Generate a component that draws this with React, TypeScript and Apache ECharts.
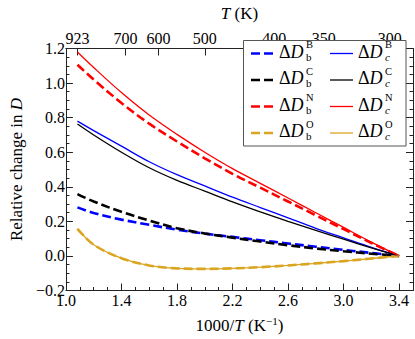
import React, { useEffect, useRef } from "react";
import * as echarts from "echarts";

// 1000/T values (K^-1)
const X = [1.083, 1.2, 1.4, 1.6, 1.8, 2.0, 2.2, 2.4, 2.6, 2.8, 3.0, 3.2, 3.4];
// Dashed (b) series
const dBb = [0.281, 0.248, 0.21, 0.18, 0.152, 0.129, 0.11, 0.091, 0.072, 0.053, 0.035, 0.017, 0];
const dCb = [0.358, 0.315, 0.255, 0.205, 0.16, 0.13, 0.106, 0.083, 0.062, 0.043, 0.027, 0.013, 0];
const dNb = [1.106, 1.02, 0.885, 0.765, 0.662, 0.565, 0.475, 0.395, 0.315, 0.235, 0.155, 0.075, 0];
const dOb = [0.157, 0.065, -0.013, -0.055, -0.072, -0.075, -0.072, -0.065, -0.055, -0.043, -0.03, -0.015, 0];
// Solid (c) series
const dBc = [0.78, 0.725, 0.635, 0.545, 0.47, 0.405, 0.34, 0.28, 0.22, 0.16, 0.105, 0.05, 0];
const dCc = [0.763, 0.7, 0.6, 0.51, 0.437, 0.375, 0.313, 0.255, 0.2, 0.148, 0.097, 0.047, 0];
const dNc = [1.18, 1.09, 0.945, 0.815, 0.703, 0.6, 0.505, 0.42, 0.335, 0.25, 0.165, 0.08, 0];
const dOc = [0.157, 0.065, -0.013, -0.055, -0.072, -0.075, -0.072, -0.065, -0.055, -0.043, -0.03, -0.015, 0];

// Top axis temperatures (K)
const TEMPS = [923, 700, 600, 500, 400, 350, 300];

const COLORS = { B: "#0000ff", C: "#000000", N: "#ff0000", O: "#daa520" };
const ELEMENTS: ("B" | "C" | "N" | "O")[] = ["B", "C", "N", "O"];

const FONT = "Liberation Serif";
const AXIS_COLOR = "#222";
const FS = 16;
const NFS = 17;

function pairs(ys: number[]) {
  return X.map((x, i) => [x, ys[i]]);
}

const rich = {
  n: { fontFamily: FONT, fontSize: NFS, color: "#000", lineHeight: 20 },
  i: { fontFamily: FONT, fontSize: NFS, fontStyle: "italic", color: "#000", lineHeight: 20 },
  sup: { fontFamily: FONT, fontSize: 11, color: "#000", lineHeight: 11, verticalAlign: "top" },
};

const LFS = 18;
const SFS = 10.5;
const legendRich = {
  n: { fontFamily: FONT, fontSize: LFS, color: "#000", lineHeight: 18 },
  i: { fontFamily: FONT, fontSize: LFS, fontStyle: "italic", color: "#000", lineHeight: 18 },
};

export default function App() {
  const ref = useRef<HTMLDivElement>(null);
  useEffect(() => {
    if (!ref.current) return;
    const chart = echarts.init(ref.current, undefined, { renderer: "svg" });
    const bData: Record<string, number[]> = { B: dBb, C: dCb, N: dNb, O: dOb };
    const cData: Record<string, number[]> = { B: dBc, C: dCc, N: dNc, O: dOc };

    const series: any[] = [];
    ELEMENTS.forEach((el) => {
      series.push({
        type: "line",
        name: "b" + el,
        data: pairs(bData[el]),
        showSymbol: false,
        symbol: "none",
        smooth: 0.35,
        lineStyle: { color: COLORS[el], width: 2.6, type: [9, 4] },
        z: 2,
      });
      series.push({
        type: "line",
        name: "c" + el,
        data: pairs(cData[el]),
        showSymbol: false,
        symbol: "none",
        smooth: 0.35,
        lineStyle: { color: COLORS[el], width: 1.3 },
        z: 3,
      });
    });

    const tempVals = TEMPS.map((t) => 1000 / t);

    const legendGraphics: any[] = [];
    const box = { x: 243.5, y: 40.5, w: 162.5, h: 105.5 };
    legendGraphics.push({
      type: "rect",
      shape: { x: box.x, y: box.y, width: box.w, height: box.h },
      style: { fill: "#fff", stroke: "#555", lineWidth: 1 },
      z: 100,
    });
    const rowsY = [53.5, 80, 106.5, 133];
    const addEntry = (lineX1: number, lineX2: number, textX: number, y: number, el: string, dashed: boolean, sub: string, subItalic: boolean) => {
      legendGraphics.push({
        type: "line",
        shape: { x1: lineX1, y1: y, x2: lineX2, y2: y },
        style: dashed
          ? { stroke: (COLORS as any)[el], lineWidth: 2.6, lineDash: [9, 4] }
          : { stroke: (COLORS as any)[el], lineWidth: 1.3 },
        z: 101,
      });
      legendGraphics.push({
        type: "text",
        x: textX,
        y: y - 2,
        style: { text: "{n|Δ}{i|D}", rich: legendRich, verticalAlign: "middle" },
        z: 101,
      });
      legendGraphics.push({
        type: "text",
        x: textX + 27,
        y: y - 9,
        style: { text: el, fontFamily: FONT, fontSize: SFS, fill: "#000", verticalAlign: "middle" },
        z: 101,
      });
      legendGraphics.push({
        type: "text",
        x: textX + 27,
        y: y + 3,
        style: {
          text: sub,
          fontFamily: FONT,
          fontSize: SFS + 0.5,
          fontStyle: subItalic ? "italic" : "normal",
          fill: "#000",
          verticalAlign: "middle",
        },
        z: 101,
      });
    };
    ELEMENTS.forEach((el, r) => {
      const y = rowsY[r];
      addEntry(251, 273, 279, y, el, true, "b", false);
      addEntry(330, 353, 358, y, el, false, "c", true);
    });

    const labelStyle = { fontFamily: FONT, fontSize: FS, color: "#000" };
    const nameStyle = { fontFamily: FONT, fontSize: NFS, color: "#000", rich };

    chart.setOption({
      animation: false,
      backgroundColor: "#fff",
      grid: { left: 53, top: 33, width: 360, height: 262, containLabel: false },
      xAxis: [
        {
          type: "value",
          position: "bottom",
          min: 1.0,
          max: 3.5,
          interval: 0.4,
          axisLine: { show: true, onZero: false, lineStyle: { color: AXIS_COLOR, width: 1 } },
          axisTick: { show: true, inside: true, length: 7, lineStyle: { color: AXIS_COLOR } },
          axisLabel: {
            ...labelStyle,
            margin: 2,
            showMaxLabel: false,
            formatter: (v: number) => v.toFixed(1),
          },
          splitLine: { show: false },
          name: "1000/{i|T} (K{sup|−1})",
          nameLocation: "middle",
          nameGap: 25,
          nameTextStyle: nameStyle,
        },
        {
          type: "value",
          position: "bottom",
          min: 1.0,
          max: 3.5,
          interval: 0.1,
          axisLine: { show: false, onZero: false },
          axisTick: { show: true, inside: true, length: 3.5, lineStyle: { color: AXIS_COLOR } },
          axisLabel: { show: false },
          splitLine: { show: false },
        },
        {
          type: "value",
          position: "top",
          min: 1.0,
          max: 3.5,
          axisLine: { show: true, onZero: false, lineStyle: { color: AXIS_COLOR, width: 1 } },
          axisTick: {
            show: true,
            inside: true,
            length: 7,
            customValues: tempVals,
            lineStyle: { color: AXIS_COLOR },
          },
          axisLabel: {
            ...labelStyle,
            margin: 2,
            customValues: tempVals,
            formatter: (v: number) => String(Math.round(1000 / v)),
          },
          splitLine: { show: false },
          name: "{i|T} (K)",
          nameLocation: "middle",
          nameGap: 25,
          nameTextStyle: nameStyle,
        },
      ],
      yAxis: [
        {
          type: "value",
          position: "left",
          min: -0.2,
          max: 1.2,
          interval: 0.2,
          axisLine: { show: true, onZero: false, lineStyle: { color: AXIS_COLOR, width: 1 } },
          axisTick: { show: true, inside: true, length: 7, lineStyle: { color: AXIS_COLOR } },
          minorTick: { show: true, splitNumber: 4, length: 3.5, lineStyle: { color: AXIS_COLOR } },
          axisLabel: {
            ...labelStyle,
            margin: 1,
            formatter: (v: number) => v.toFixed(1).replace("-", "−"),
          },
          splitLine: { show: false },
          name: "Relative change in {i|D}",
          nameLocation: "middle",
          nameRotate: 90,
          nameGap: 31,
          nameTextStyle: nameStyle,
        },
        {
          type: "value",
          position: "right",
          min: -0.2,
          max: 1.2,
          interval: 0.2,
          axisLine: { show: true, onZero: false, lineStyle: { color: AXIS_COLOR, width: 1 } },
          axisTick: { show: true, inside: true, length: 7, lineStyle: { color: AXIS_COLOR } },
          minorTick: { show: true, splitNumber: 4, length: 3.5, lineStyle: { color: AXIS_COLOR } },
          axisLabel: { show: false },
          splitLine: { show: false },
        },
      ],
      series,
      graphic: legendGraphics,
    });
    return () => chart.dispose();
  }, []);
  return (
    <div
      ref={ref}
      style={{ position: "fixed", left: 0, top: 0, width: 415, height: 339, background: "#fff" }}
    />
  );
}
